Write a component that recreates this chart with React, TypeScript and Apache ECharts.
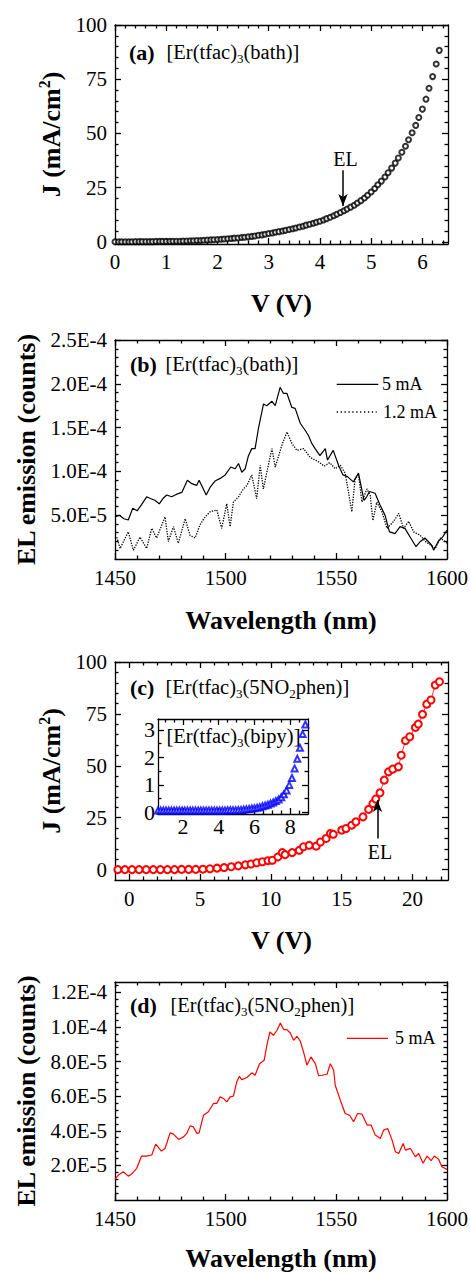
import React, { useEffect, useRef } from "react";
import * as echarts from "echarts";

const SERIF = "Liberation Serif";

// ---------- tick values / labels ----------
const A_X_TICKS = [0, 1, 2, 3, 4, 5, 6];
const A_X_LABELS = ["0", "1", "2", "3", "4", "5", "6"];
const A_Y_TICKS = [0, 25, 50, 75, 100];
const A_Y_LABELS = ["0", "25", "50", "75", "100"];
const WL_TICKS = [1450, 1500, 1550, 1600];
const WL_LABELS = ["1450", "1500", "1550", "1600"];
const B_Y_TICKS = [5, 10, 15, 20, 25]; // units of 1E-5
const B_Y_LABELS = ["5.0E-5", "1.0E-4", "1.5E-4", "2.0E-4", "2.5E-4"];
const C_X_TICKS = [0, 5, 10, 15, 20];
const C_X_LABELS = ["0", "5", "10", "15", "20"];
const C_Y_TICKS = [0, 25, 50, 75, 100];
const C_Y_LABELS = ["0", "25", "50", "75", "100"];
const INSET_X_TICKS = [2, 4, 6, 8];
const INSET_X_LABELS = ["2", "4", "6", "8"];
const INSET_Y_TICKS = [0, 1, 2, 3];
const INSET_Y_LABELS = ["0", "1", "2", "3"];
const D_Y_TICKS = [2, 4, 6, 8, 10, 12]; // units of 1E-5
const D_Y_LABELS = ["2.0E-5", "4.0E-5", "6.0E-5", "8.0E-5", "1.0E-4", "1.2E-4"];

const B_LEGEND = ["5 mA", "1.2 mA"];
const D_LEGEND = ["5 mA"];

// ---------- data ----------
// (a) J-V of [Er(tfac)3(bath)]  [V, J mA/cm2]
const A_IV = [
  [0, 0], [0.07, 0], [0.13, 0], [0.2, 0], [0.27, 0], [0.33, 0], [0.4, 0.1], [0.47, 0.1], [0.53, 0.1], [0.6, 0.1], [0.67, 0.1], [0.73, 0.1], [0.8, 0.2], [0.87, 0.2], [0.93, 0.2], [1, 0.2],
  [1.07, 0.2], [1.13, 0.3], [1.2, 0.3], [1.27, 0.3], [1.33, 0.4], [1.4, 0.4], [1.47, 0.5], [1.53, 0.5], [1.6, 0.6], [1.67, 0.6], [1.73, 0.7], [1.8, 0.8], [1.87, 0.9], [1.93, 1.0], [2, 1.1],
  [2.07, 1.2], [2.13, 1.3], [2.2, 1.4], [2.27, 1.5], [2.33, 1.7], [2.4, 1.8], [2.47, 2.0], [2.53, 2.1], [2.6, 2.3], [2.67, 2.5], [2.73, 2.7], [2.8, 3.0], [2.87, 3.2], [2.93, 3.5], [3, 3.8],
  [3.07, 4.1], [3.13, 4.4], [3.2, 4.7], [3.27, 5.0], [3.33, 5.3], [3.4, 5.7], [3.47, 6.0], [3.53, 6.4], [3.6, 6.8], [3.67, 7.2], [3.73, 7.7], [3.8, 8.1], [3.87, 8.6], [3.93, 9.0], [4, 9.5],
  [4.07, 10.1], [4.13, 10.7], [4.2, 11.3], [4.27, 12.0], [4.33, 12.7], [4.4, 13.5], [4.47, 14.3], [4.53, 15.1], [4.6, 16.0], [4.67, 16.9], [4.73, 17.9], [4.8, 19.0], [4.87, 20.2], [4.93, 21.5], [5, 23.0],
  [5.07, 24.6], [5.13, 26.3], [5.2, 28.0], [5.27, 29.9], [5.33, 31.9], [5.4, 34.0], [5.47, 36.3], [5.53, 38.7], [5.6, 41.3], [5.67, 44.1], [5.73, 47.1], [5.8, 50.3], [5.87, 53.7], [5.93, 57.3], [6, 61.2],
  [6.07, 65.8], [6.13, 70.8], [6.2, 76.2], [6.27, 82.0], [6.33, 88.3],
];
const A_EL_ARROW = [[4.45, 33], [4.45, 16.5]];
const A_EL_TEXT = [4.5, 38];

// (b) EL spectra of [Er(tfac)3(bath)]  [nm, counts / 1E-5]
const B_5MA = [
  [1450, 4.8], [1452, 5.0], [1454, 4.6], [1456, 4.45], [1458, 5.8], [1460, 5.5], [1462, 6.2], [1464.3, 7.1], [1466, 6.9], [1468, 6.7],
  [1470, 6.3], [1472, 7.0], [1473.4, 7.3], [1475.6, 7.1], [1477.9, 7.4], [1480.2, 7.6], [1482.7, 9.0], [1484.7, 8.6], [1486.9, 8.4], [1488, 9.0],
  [1491.2, 7.3], [1493, 8.2], [1495.2, 8.9], [1497.5, 9.2], [1499.8, 9.6], [1502.3, 10.5], [1504.3, 10.3], [1505.8, 10.9], [1507.3, 9.9], [1508.8, 10.3],
  [1510.3, 11.8], [1511.8, 12.6], [1513.3, 12.6], [1514.8, 14.9], [1517.1, 17.7], [1518.6, 17.5], [1520.9, 18.0], [1522.4, 17.5], [1524.6, 19.6], [1526.1, 18.9],
  [1527.7, 18.9], [1529.9, 17.3], [1531.4, 17.2], [1533.7, 15.5], [1535.9, 14.7], [1537.4, 14.1], [1538.9, 13.2], [1540.4, 12.6], [1542.6, 11.8], [1545, 12.6],
  [1546, 11.3], [1548.6, 12.4], [1551, 10.7], [1553, 9.6], [1555, 9.4], [1557.7, 8.8], [1560, 9.8], [1562.5, 6.7], [1563.7, 7.1], [1565, 7.7],
  [1567.5, 7.5], [1569.7, 6.2], [1572, 5.0], [1574, 3.1], [1576.5, 2.9], [1578.8, 3.7], [1581, 3.5], [1583.6, 2.4], [1586, 1.4], [1588, 2.0],
  [1590, 2.4], [1593, 1.6], [1594, 1.0], [1596, 2.0], [1598, 2.5], [1600, 3.3],
];
const B_1_2MA = [
  [1450.8, 2.5], [1452.3, 1.2], [1456, 3.1], [1458.3, 1.0], [1461.3, 2.5], [1464.3, 1.2], [1466.6, 3.5], [1468.8, 2.4], [1472.6, 4.8], [1474.1, 2.0],
  [1476.4, 3.7], [1478.6, 1.8], [1481.7, 4.6], [1483.9, 2.7], [1486.2, 2.4], [1488.4, 3.9], [1490.7, 4.8], [1493, 5.4], [1496, 5.6], [1498.2, 3.5],
  [1500.5, 6.3], [1502, 3.7], [1503.5, 6.5], [1505.8, 7.1], [1508, 8.0], [1509.6, 8.4], [1511.8, 9.6], [1514, 6.9], [1515.6, 10.7], [1517, 8.0],
  [1520.9, 12.6], [1522.4, 10.5], [1525.4, 13.0], [1527.7, 14.5], [1529.9, 13.2], [1532.2, 12.4], [1535.2, 12.6], [1538.2, 11.6], [1541.9, 11.1], [1544.5, 10.6],
  [1547, 11.0], [1549.5, 10.3], [1551.8, 10.7], [1554, 9.8], [1557, 5.4], [1558.5, 9.2], [1560, 9.6], [1561.6, 6.5], [1563.8, 8.0], [1565.3, 7.3],
  [1566.5, 4.4], [1568.3, 6.5], [1570.6, 5.4], [1572.9, 3.5], [1575.9, 4.3], [1578.2, 5.2], [1580.4, 3.5], [1582.7, 4.3], [1584.9, 3.1], [1587.9, 2.7],
  [1590.2, 2.0], [1592.5, 1.6], [1594.7, 1.2], [1597, 2.4], [1600, 1.8],
];

// (c) J-V of [Er(tfac)3(5NO2phen)]
const C_IV = [
  [-0.8, 0], [-0.3, 0], [0.2, 0], [0.7, 0], [1.2, 0], [1.7, 0], [2.2, 0], [2.7, 0], [3.2, 0], [3.7, 0.1],
  [4.2, 0.1], [4.7, 0.1], [5.2, 0.2], [5.7, 0.4], [6.2, 0.7], [6.7, 1.0], [7.2, 1.4], [7.7, 1.8], [8.2, 2.3], [8.6, 2.7],
  [9.0, 3.3], [9.4, 3.8], [9.8, 4.3], [10.1, 4.5], [10.5, 6.1], [10.8, 8.2], [11.0, 7.2], [11.5, 8.2], [12.0, 9.3], [12.3, 11.0],
  [12.7, 11.7], [13.2, 11.3], [13.5, 13.3], [13.9, 15.0], [14.2, 17.4], [14.4, 17.0], [15.0, 19.0], [15.3, 19.8], [15.7, 21.4], [16.0, 23.0],
  [16.5, 25.4], [16.9, 29.0], [17.2, 31.8], [17.4, 34.0], [17.7, 37.0], [18.0, 43.1], [18.3, 47.1], [18.6, 48.4], [19.0, 49.5], [19.2, 55.1],
  [19.5, 62.1], [19.8, 64.0], [20.2, 68.5], [20.4, 70.1], [20.7, 74.8], [21.0, 79.7], [21.3, 81.7], [21.6, 88.9], [21.9, 90.5],
];
const C_EL_ARROW = [[17.52, 15], [17.52, 33.5]];
const C_EL_TEXT = [17.7, 8.5];

// inset: J-V of [Er(tfac)3(bipy)]
const INSET_IV = [
  [0.6, 0.07], [0.75, 0.07], [0.9, 0.07], [1.05, 0.07], [1.2, 0.07], [1.35, 0.07], [1.5, 0.07], [1.65, 0.07], [1.8, 0.07], [1.95, 0.07],
  [2.1, 0.07], [2.25, 0.07], [2.4, 0.07], [2.55, 0.07], [2.7, 0.07], [2.85, 0.07], [3.0, 0.07], [3.15, 0.07], [3.3, 0.07], [3.45, 0.07],
  [3.6, 0.07], [3.75, 0.07], [3.9, 0.07], [4.05, 0.07], [4.2, 0.07], [4.35, 0.07], [4.5, 0.08], [4.65, 0.08], [4.8, 0.08], [4.95, 0.08],
  [5.1, 0.09], [5.25, 0.09], [5.4, 0.1], [5.55, 0.11], [5.7, 0.12], [5.85, 0.14], [6.0, 0.15], [6.15, 0.17], [6.3, 0.19], [6.45, 0.22],
  [6.6, 0.25], [6.75, 0.28], [6.9, 0.32], [7.05, 0.36], [7.2, 0.41], [7.35, 0.47], [7.5, 0.55], [7.65, 0.66], [7.8, 0.8], [7.95, 1.0],
  [8.1, 1.25], [8.25, 1.6], [8.4, 1.95], [8.55, 2.35], [8.7, 2.85], [8.85, 3.2],
];

// (d) EL spectrum of [Er(tfac)3(5NO2phen)]  [nm, counts / 1E-5]
const D_5MA = [
  [1450, 1.19], [1451.5, 1.44], [1453.8, 1.63], [1456, 1.38], [1457.5, 1.5], [1459.8, 1.83], [1462, 2.54], [1464.3, 2.54], [1466.6, 2.6], [1468.4, 3.23],
  [1471, 2.83], [1472.6, 2.98], [1474.9, 3.88], [1476.4, 3.81], [1478.7, 3.5], [1481, 3.65], [1482.4, 3.85], [1484, 4.29], [1485.4, 4.23], [1487, 3.85],
  [1488, 3.88], [1490, 4.9], [1492.2, 5.1], [1494.5, 5.58], [1496, 5.58], [1497.5, 5.96], [1499, 5.87], [1500.5, 5.67], [1502, 5.96], [1503.5, 6.0],
  [1505, 6.83], [1506.2, 7.15], [1507.3, 6.96], [1509.6, 7.08], [1511.8, 7.35], [1513.3, 7.21], [1515.3, 7.88], [1517.4, 8.08], [1518.6, 8.94], [1520, 9.71],
  [1521.6, 9.52], [1523.2, 9.81], [1524.7, 10.23], [1526.2, 9.85], [1527.7, 9.85], [1529.2, 9.65], [1530.7, 9.23], [1532.2, 9.46], [1533.7, 9.19], [1535.3, 8.5],
  [1536.7, 7.79], [1538.5, 8.27], [1540.5, 7.88], [1542, 7.19], [1543.5, 7.21], [1545.8, 7.27], [1547.3, 7.88], [1548.8, 7.5], [1549.5, 6.63], [1551.8, 5.77],
  [1554, 5.0], [1556, 4.9], [1557.8, 4.52], [1559.6, 5.0], [1561.6, 4.96], [1563.9, 4.33], [1565.7, 4.33], [1567.6, 3.75], [1569.9, 3.56], [1571.4, 4.04],
  [1573.2, 4.13], [1575.2, 3.46], [1576.7, 2.79], [1578.2, 2.69], [1580.2, 3.27], [1581.2, 2.88], [1583.5, 2.98], [1585.7, 2.5], [1587.2, 2.69], [1589.2, 2.12],
  [1591, 2.54], [1592.8, 2.27], [1594.3, 2.54], [1596.2, 2.35], [1597.7, 1.92], [1600, 1.77],
];

// ---------- helpers ----------
function minorTicks(min: number, max: number, step: number, majors: number[]) {
  const out: number[] = [];
  const start = Math.ceil(min / step - 1e-9);
  const end = Math.floor(max / step + 1e-9);
  for (let k = start; k <= end; k++) {
    const v = +(k * step).toFixed(6);
    if (v <= min + 1e-9 || v >= max - 1e-9) continue;
    if (majors.some((m) => Math.abs(m - v) < 1e-6)) continue;
    out.push(v);
  }
  return out;
}

const AX_LINE = { color: "#000", width: 1.3 };

function makeAxes(dim: "x" | "y", gridIndex: number, cfg: any) {
  const { min, max, ticks, labels, minorStep } = cfg;
  const minors = minorTicks(min, max, minorStep, ticks);
  const base = {
    type: "value",
    gridIndex,
    min,
    max,
    silent: true,
    splitLine: { show: false },
    splitArea: { show: false },
    axisPointer: { show: false },
  };
  const sideA = dim === "x" ? "bottom" : "left";
  const sideB = dim === "x" ? "top" : "right";
  const fmt = (v: number) => {
    const i = ticks.findIndex((t: number) => Math.abs(t - v) < 1e-6);
    return i >= 0 ? labels[i] : "";
  };
  const majorTick = { show: true, inside: true, length: 6, customValues: ticks, lineStyle: AX_LINE };
  const minorTick = { show: true, inside: true, length: 3.5, customValues: minors, lineStyle: AX_LINE };
  const main: any = {
    ...base,
    position: sideA,
    axisLine: { show: true, onZero: false, lineStyle: AX_LINE },
    axisTick: majorTick,
    axisLabel: {
      show: true,
      customValues: ticks,
      formatter: fmt,
      margin: cfg.labelMargin ?? 8,
      color: "#000",
      fontFamily: SERIF,
      fontSize: cfg.fontSize ?? 21,
    },
  };
  if (cfg.name) {
    main.name = cfg.name;
    main.nameLocation = "middle";
    main.nameGap = cfg.nameGap;
    main.nameRotate = dim === "y" ? 90 : 0;
    main.nameTextStyle = {
      fontFamily: SERIF,
      fontSize: 26,
      fontWeight: "bold",
      color: "#000",
      rich: cfg.nameRich,
    };
  }
  return [
    main,
    { ...base, position: sideA, axisLine: { show: false, onZero: false }, axisTick: minorTick, axisLabel: { show: false } },
    { ...base, position: sideB, axisLine: { show: true, onZero: false, lineStyle: AX_LINE }, axisTick: majorTick, axisLabel: { show: false } },
    { ...base, position: sideB, axisLine: { show: false, onZero: false }, axisTick: minorTick, axisLabel: { show: false } },
  ];
}

const J_RICH = {
  t: { fontFamily: SERIF, fontSize: 26, fontWeight: "bold", color: "#000" },
  p: { fontFamily: SERIF, fontSize: 16, fontWeight: "bold", color: "#000", padding: [0, 0, 14, 0] },
};
const J_NAME = "{t|J (mA/cm}{p|2}{t|)}";

const TITLE_RICH = {
  n: { fontFamily: SERIF, fontSize: 20.5, color: "#000" },
  s: { fontFamily: SERIF, fontSize: 13, color: "#000", padding: [12, 0, 0, 0] },
};

function boldLabel(text: string, x: number, y: number) {
  return {
    type: "text",
    x,
    y,
    silent: true,
    style: { text, fill: "#000", fontFamily: SERIF, fontSize: 22, fontWeight: "bold", align: "left", verticalAlign: "middle" },
  };
}
function richLabel(text: string, x: number, y: number) {
  return {
    type: "text",
    x,
    y,
    silent: true,
    style: { text, rich: TITLE_RICH, fill: "#000", fontFamily: SERIF, fontSize: 20.5, align: "left", verticalAlign: "middle" },
  };
}
function legendLine(x1: number, x2: number, y: number, color: string, dash?: number[]) {
  return {
    type: "line",
    silent: true,
    shape: { x1, y1: y, x2, y2: y },
    style: { stroke: color, lineWidth: 1.3, lineDash: dash },
  };
}
function legendText(text: string, x: number, y: number) {
  return {
    type: "text",
    x,
    y,
    silent: true,
    style: { text, fill: "#000", fontFamily: SERIF, fontSize: 18, align: "left", verticalAlign: "middle" },
  };
}

function buildOption() {
  const grids = [
    { left: 115, top: 25, width: 333, height: 219 },
    { left: 115, top: 340, width: 332, height: 219 },
    { left: 115, top: 662, width: 333, height: 218 },
    { left: 158, top: 719, width: 150, height: 95 },
    { left: 115, top: 982, width: 332, height: 218 },
  ].map((g) => ({ ...g, show: false, containLabel: false, outerBoundsMode: "none" }));

  const xAxis = [
    ...makeAxes("x", 0, { min: 0, max: 6.5, ticks: A_X_TICKS, labels: A_X_LABELS, minorStep: 0.2, labelMargin: 7, name: "V (V)", nameGap: 46 }),
    ...makeAxes("x", 1, { min: 1450, max: 1600, ticks: WL_TICKS, labels: WL_LABELS, minorStep: 10, labelMargin: 8, name: "Wavelength (nm)", nameGap: 48 }),
    ...makeAxes("x", 2, { min: -1, max: 22.5, ticks: C_X_TICKS, labels: C_X_LABELS, minorStep: 1, labelMargin: 8, name: "V (V)", nameGap: 47 }),
    ...makeAxes("x", 3, { min: 0.6, max: 9.0, ticks: INSET_X_TICKS, labels: INSET_X_LABELS, minorStep: 0.5, labelMargin: 1, fontSize: 22 }),
    ...makeAxes("x", 4, { min: 1450, max: 1600, ticks: WL_TICKS, labels: WL_LABELS, minorStep: 10, labelMargin: 8, name: "Wavelength (nm)", nameGap: 45 }),
  ];
  const yAxis = [
    ...makeAxes("y", 0, { min: -1, max: 100, ticks: A_Y_TICKS, labels: A_Y_LABELS, minorStep: 5, labelMargin: 8, name: J_NAME, nameRich: J_RICH, nameGap: 49 }),
    ...makeAxes("y", 1, { min: 0, max: 25, ticks: B_Y_TICKS, labels: B_Y_LABELS, minorStep: 1, labelMargin: 8, name: "EL emission (counts)", nameGap: 73 }),
    ...makeAxes("y", 2, { min: -5, max: 100, ticks: C_Y_TICKS, labels: C_Y_LABELS, minorStep: 5, labelMargin: 8, name: J_NAME, nameRich: J_RICH, nameGap: 49 }),
    ...makeAxes("y", 3, { min: -0.06, max: 3.4, ticks: INSET_Y_TICKS, labels: INSET_Y_LABELS, minorStep: 0.5, labelMargin: 3, fontSize: 22 }),
    ...makeAxes("y", 4, { min: 0, max: 12.6, ticks: D_Y_TICKS, labels: D_Y_LABELS, minorStep: 0.4, labelMargin: 8, name: "EL emission (counts)", nameGap: 73 }),
  ];

  const arrowLine = (pts: number[][]) => ({
    silent: true,
    symbol: ["none", "arrow"],
    symbolSize: [7, 12],
    lineStyle: { color: "#000", width: 1.5, type: "solid" },
    label: { show: false },
    data: [[{ coord: pts[0] }, { coord: pts[1] }]],
  });
  const elText = (pt: number[]) => ({
    silent: true,
    symbol: "circle",
    symbolSize: 0,
    label: { show: true, position: "inside", formatter: "EL", fontFamily: SERIF, fontSize: 20, color: "#000" },
    data: [{ coord: pt }],
  });

  const series: any[] = [
    {
      type: "scatter",
      xAxisIndex: 0,
      yAxisIndex: 0,
      data: A_IV,
      symbol: "emptyCircle",
      symbolSize: 5,
      itemStyle: { color: "#000", borderWidth: 1 },
      silent: true,
      markLine: arrowLine(A_EL_ARROW),
      markPoint: elText(A_EL_TEXT),
    },
    {
      type: "line",
      name: B_LEGEND[0],
      xAxisIndex: 4,
      yAxisIndex: 4,
      data: B_5MA,
      symbol: "none",
      lineStyle: { color: "#000", width: 1.2 },
      itemStyle: { color: "#000" },
      silent: true,
    },
    {
      type: "line",
      name: B_LEGEND[1],
      xAxisIndex: 4,
      yAxisIndex: 4,
      data: B_1_2MA,
      symbol: "none",
      lineStyle: { color: "#000", width: 1.3, type: "dotted" },
      itemStyle: { color: "#000" },
      silent: true,
    },
    {
      type: "line",
      xAxisIndex: 8,
      yAxisIndex: 8,
      data: C_IV,
      symbol: "emptyCircle",
      symbolSize: 7,
      showSymbol: true,
      lineStyle: { color: "#ff0000", width: 0.8 },
      itemStyle: { color: "#ff0000", borderWidth: 1 },
      silent: true,
      markLine: arrowLine(C_EL_ARROW),
      markPoint: elText(C_EL_TEXT),
    },
    {
      type: "scatter",
      xAxisIndex: 12,
      yAxisIndex: 12,
      data: INSET_IV,
      symbol: "emptyTriangle",
      symbolSize: 6,
      itemStyle: { color: "#0000ff", borderWidth: 1 },
      silent: true,
    },
    {
      type: "line",
      name: "d-" + D_LEGEND[0],
      xAxisIndex: 16,
      yAxisIndex: 16,
      data: D_5MA,
      symbol: "none",
      lineStyle: { color: "#ff0000", width: 1.2 },
      itemStyle: { color: "#ff0000" },
      silent: true,
    },
  ];

  return {
    animation: false,
    backgroundColor: "#fff",
    textStyle: { fontFamily: SERIF },
    grid: grids,
    xAxis,
    yAxis,
    series,
    graphic: [
      boldLabel("(a)", 129, 52),
      richLabel("{n|[Er(tfac)}{s|3}{n|(bath)]}", 166.5, 52),
      boldLabel("(b)", 130, 364),
      richLabel("{n|[Er(tfac)}{s|3}{n|(bath)]}", 165.5, 364),
      boldLabel("(c)", 130, 687),
      richLabel("{n|[Er(tfac)}{s|3}{n|(5NO}{s|2}{n|phen)]}", 165.5, 687),
      richLabel("{n|[Er(tfac)}{s|3}{n|(bipy)]}", 166.5, 736),
      boldLabel("(d)", 130, 1005),
      richLabel("{n|[Er(tfac)}{s|3}{n|(5NO}{s|2}{n|phen)]}", 170.5, 1005),
      legendLine(336.7, 378.3, 384.3, "#000"),
      legendText(B_LEGEND[0], 382, 384),
      legendLine(336.7, 376.7, 412, "#000", [1.3, 2.6]),
      legendText(B_LEGEND[1], 383, 411.5),
      legendLine(347, 388, 1038.3, "#ff0000"),
      legendText(D_LEGEND[0], 395, 1038),
    ],
  };
}

export default function App() {
  const ref = useRef<HTMLDivElement>(null);
  useEffect(() => {
    if (!ref.current) return;
    const chart = echarts.init(ref.current, null, { renderer: "svg" });
    chart.setOption(buildOption() as any);
    return () => chart.dispose();
  }, []);
  return (
    <div
      ref={ref}
      style={{ position: "absolute", left: 0, top: 0, width: 470, height: 1272, background: "#fff" }}
    />
  );
}
